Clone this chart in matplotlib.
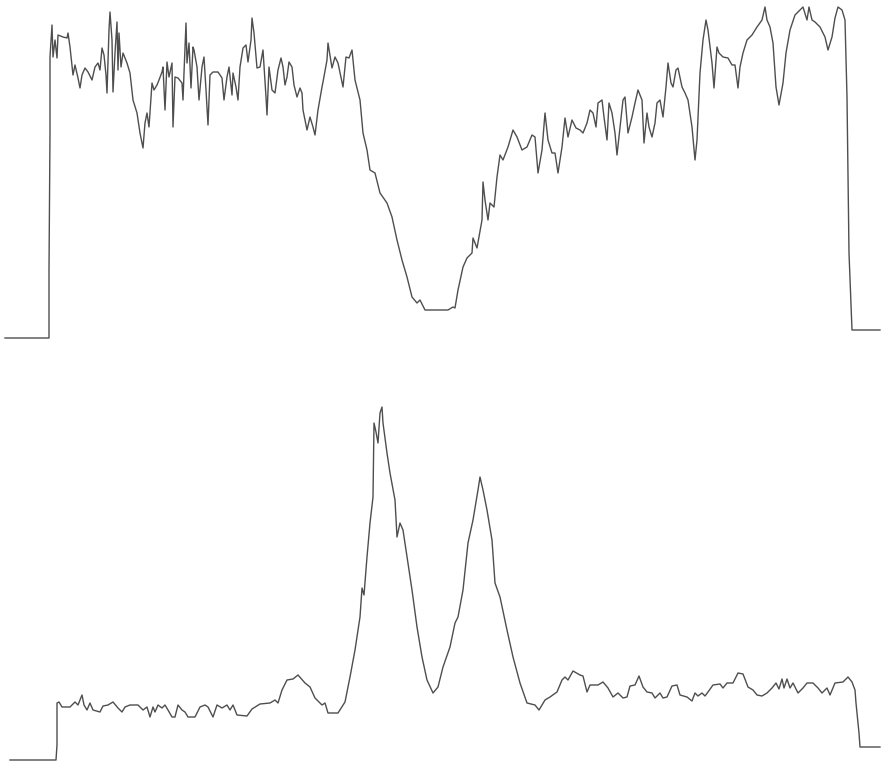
import numpy as np
import matplotlib
matplotlib.use("Agg")
from matplotlib import pyplot as plt

# upper trace: sample position and signal level
top_x = [5, 49, 49, 50, 50, 52, 53, 55, 57, 58, 63, 67, 68, 70, 73, 75, 78, 80, 82, 85,
         88, 92, 95, 98, 100, 102, 104, 106, 107, 109, 110, 112, 113, 115, 117, 118, 119, 121, 123, 127,
         130, 133, 137, 140, 143, 145, 147, 149, 152, 154, 157, 159, 162, 163, 165, 167, 169, 172, 173, 175,
         178, 182, 183, 184, 186, 187, 189, 191, 193, 194, 197, 199, 202, 204, 206, 208, 210, 213, 218, 222,
         224, 227, 229, 232, 233, 236, 238, 240, 243, 246, 248, 251, 252, 254, 257, 260, 263, 266, 267, 269,
         272, 275, 278, 281, 283, 285, 287, 289, 292, 294, 297, 300, 302, 303, 307, 310, 313, 315, 318, 322,
         323, 327, 328, 332, 335, 338, 343, 346, 349, 352, 355, 360, 363, 367, 370, 375, 380, 387, 392, 397,
         402, 407, 412, 417, 420, 425, 437, 448, 453, 455, 458, 463, 467, 472, 473, 477, 482, 483, 485, 488,
         490, 494, 497, 500, 503, 508, 513, 517, 522, 527, 532, 535, 538, 542, 545, 548, 552, 555, 558, 562,
         565, 568, 572, 576, 580, 583, 587, 590, 593, 596, 598, 602, 604, 607, 609, 612, 615, 617, 619, 623,
         625, 628, 632, 635, 638, 642, 644, 647, 649, 652, 655, 657, 660, 663, 666, 668, 671, 673, 676, 678,
         682, 685, 688, 692, 695, 697, 700, 703, 706, 708, 712, 714, 717, 719, 723, 728, 732, 735, 738, 740,
         743, 747, 752, 757, 762, 765, 767, 770, 773, 776, 779, 783, 786, 790, 795, 800, 803, 807, 809, 812,
         815, 820, 825, 828, 832, 835, 838, 842, 845, 847, 849, 852, 880]
top_y = [0, 0, 68, 205, 281, 313, 281, 298, 280, 303, 301, 300, 305, 291, 263, 273, 260, 250, 263, 270,
         266, 258, 271, 275, 268, 290, 283, 263, 245, 308, 326, 298, 246, 285, 316, 268, 305, 271, 285, 275,
         265, 238, 225, 205, 190, 215, 225, 211, 255, 248, 253, 258, 266, 271, 228, 276, 261, 275, 211, 261,
         260, 255, 238, 265, 315, 275, 295, 250, 291, 288, 271, 238, 271, 281, 248, 213, 263, 266, 266, 260,
         238, 261, 271, 243, 265, 251, 238, 271, 290, 293, 276, 298, 320, 305, 270, 271, 288, 241, 223, 271,
         248, 245, 268, 280, 271, 253, 261, 276, 271, 253, 241, 250, 245, 228, 208, 221, 211, 203, 228, 251,
         256, 278, 295, 270, 281, 275, 251, 281, 280, 288, 258, 238, 205, 188, 168, 165, 145, 135, 121, 98,
         78, 61, 41, 35, 38, 28, 28, 28, 31, 30, 48, 71, 80, 85, 100, 90, 118, 156, 138, 118,
         135, 131, 161, 183, 178, 191, 208, 201, 188, 191, 203, 201, 165, 188, 225, 198, 185, 185, 165, 191,
         220, 201, 218, 210, 208, 205, 215, 228, 225, 211, 235, 238, 221, 198, 235, 225, 205, 183, 201, 238,
         241, 205, 221, 235, 248, 238, 195, 225, 211, 201, 215, 235, 238, 221, 251, 275, 255, 251, 268, 270,
         251, 245, 238, 211, 178, 198, 265, 298, 318, 308, 275, 250, 291, 285, 281, 280, 273, 273, 250, 271,
         285, 298, 303, 311, 318, 331, 318, 311, 295, 251, 233, 255, 285, 308, 323, 328, 331, 318, 331, 318,
         316, 311, 301, 288, 301, 320, 331, 328, 318, 241, 85, 8, 8]

# lower trace
bot_x = [10, 56, 57, 57, 59, 62, 70, 75, 78, 82, 84, 87, 90, 93, 100, 103, 108, 113, 118, 122,
         125, 130, 138, 143, 147, 150, 153, 155, 158, 162, 165, 168, 172, 175, 178, 182, 185, 188, 195, 200,
         205, 208, 213, 217, 222, 227, 230, 233, 237, 247, 252, 260, 270, 275, 278, 282, 287, 293, 298, 305,
         310, 315, 322, 325, 328, 338, 345, 350, 355, 360, 362, 364, 367, 370, 373, 374, 376, 378, 380, 382,
         383, 387, 390, 395, 397, 400, 403, 407, 412, 417, 422, 427, 433, 438, 443, 450, 455, 458, 463, 468,
         473, 478, 480, 483, 487, 492, 495, 500, 507, 513, 520, 527, 535, 539, 545, 550, 557, 562, 565, 568,
         573, 580, 583, 587, 590, 598, 603, 608, 613, 618, 623, 627, 630, 635, 639, 643, 647, 652, 655, 660,
         663, 667, 672, 677, 680, 687, 692, 695, 698, 702, 705, 708, 713, 720, 723, 727, 733, 738, 743, 748,
         753, 757, 762, 767, 772, 776, 779, 782, 784, 787, 790, 793, 798, 803, 807, 813, 818, 822, 827, 830,
         835, 843, 848, 852, 855, 856, 858, 859, 860, 880]
bot_y = [0, 0, 15, 57, 58, 53, 53, 58, 55, 65, 55, 50, 57, 50, 48, 54, 55, 58, 52, 48,
         53, 55, 55, 50, 53, 43, 53, 48, 55, 52, 55, 50, 43, 43, 55, 50, 48, 43, 43, 53,
         55, 53, 43, 55, 52, 55, 50, 55, 45, 44, 51, 56, 57, 60, 57, 70, 80, 81, 85, 77,
         73, 62, 55, 57, 47, 47, 58, 83, 110, 143, 172, 165, 203, 237, 263, 337, 328, 317, 347, 353,
         337, 307, 287, 260, 223, 237, 230, 203, 170, 133, 103, 80, 67, 73, 93, 113, 137, 143, 170, 217,
         240, 270, 283, 270, 250, 220, 177, 163, 130, 103, 77, 57, 55, 50, 60, 63, 68, 80, 83, 80,
         89, 85, 84, 68, 75, 75, 78, 72, 63, 67, 62, 63, 74, 75, 84, 73, 68, 67, 62, 67,
         62, 63, 74, 75, 65, 63, 59, 67, 64, 67, 64, 68, 75, 76, 72, 77, 77, 87, 86, 73,
         70, 65, 64, 67, 72, 77, 71, 81, 72, 81, 72, 77, 67, 72, 77, 77, 72, 67, 72, 65,
         77, 78, 83, 78, 70, 57, 37, 27, 13, 13]

line_col = '#4e4e4e'

fig = plt.figure(figsize=(8.82, 7.65), dpi=100)
ax1 = fig.add_axes([0, 420/765, 1, 345/765])
ax1.plot(top_x, top_y, color=line_col, lw=1.0)
ax1.set_xlim(0, 882)
ax1.set_ylim(-7, 338)
ax1.axis('off')

ax2 = fig.add_axes([0, 0, 1, 375/765])
ax2.plot(bot_x, bot_y, color=line_col, lw=1.0)
ax2.set_xlim(0, 882)
ax2.set_ylim(-5, 370)
ax2.axis('off')

fig.savefig('out.png', dpi=100, facecolor='white')
